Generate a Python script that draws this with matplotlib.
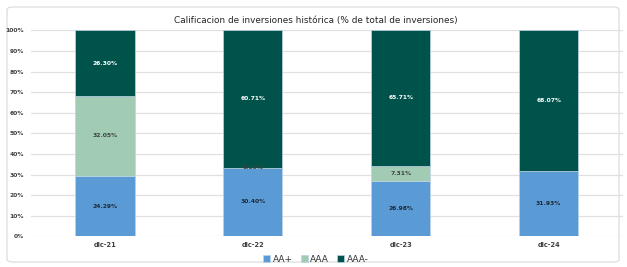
import matplotlib
matplotlib.use("Agg")
import matplotlib.pyplot as plt
from matplotlib.patches import FancyBboxPatch
import numpy as np

categories = ["dic-21", "dic-22", "dic-23", "dic-24"]
series = ["AA+", "AAA", "AAA-"]
aa_plus = [24.29, 30.40, 26.98, 31.93]
aaa = [32.05, 0.00, 7.31, np.nan]
aaa_minus = [26.30, 60.71, 65.71, 68.07]

colors = ["#5B9BD5", "#A1CBB2", "#00534B"]
label_colors = ["#1d2b3a", "#404040", "#ffffff"]

plt.rcParams['font.family'] = ['DejaVu Sans']

fig = plt.figure(figsize=(6.27, 2.67), dpi=100)
frame = FancyBboxPatch((7 / 627, 5 / 267), 612 / 627, 255 / 267,
                       boxstyle="round,pad=0,rounding_size=0.01",
                       transform=fig.transFigure, facecolor="white",
                       edgecolor="#d9d9d9", linewidth=0.8, zorder=-10)
fig.patches.append(frame)

ax = fig.add_axes([31 / 627, 1 - 236.3 / 267, 591.7 / 627, 206 / 267])
ax.set_facecolor("none")

data = np.array([aa_plus, aaa, aaa_minus])
totals = np.nansum(data, axis=0)
pct = np.nan_to_num(data) / totals * 100

x = np.arange(len(categories))
bottom = np.zeros(len(categories))
for i, name in enumerate(series):
    ax.bar(x, pct[i], 0.4, bottom=bottom, color=colors[i], label=name,
           edgecolor="#bcd3e8", linewidth=0.5, zorder=2)
    for j in range(len(categories)):
        if np.isnan(data[i][j]):
            continue
        ax.text(x[j], bottom[j] + pct[i][j] / 2, f"{data[i][j]:.2f}%",
                ha="center", va="center", fontsize=4.3, fontweight="bold",
                color=label_colors[i] if pct[i][j] > 0 else "#404040", zorder=3)
    bottom += pct[i]

ax.set_xlim(-0.5, 3.5)
ax.set_ylim(0, 100)
ax.set_yticks(np.arange(0, 101, 10))
ax.set_yticklabels([f"{v}%" for v in range(0, 101, 10)])
ax.set_xticks(x)
ax.set_xticklabels(categories)
ax.tick_params(axis="y", length=0, labelsize=4.3, labelcolor="#404040", pad=5)
ax.tick_params(axis="x", length=0, labelsize=4.8, labelcolor="#404040", pad=4)
for lab in ax.get_yticklabels() + ax.get_xticklabels():
    lab.set_fontweight("bold")
ax.grid(axis="y", color="#e0e0e0", linewidth=0.9, zorder=0)
for s in ax.spines.values():
    s.set_visible(False)

fig.text(316 / 627, 1 - 20 / 267,
         "Calificacion de inversiones histórica (% de total de inversiones)",
         ha="center", va="center", fontsize=6.4, color="#262626")

fig.legend(loc="center", bbox_to_anchor=(316 / 627, 1 - 259 / 267), ncol=3,
           frameon=False, fontsize=6.5, handlelength=0.75, handleheight=0.75,
           handletextpad=0.3, columnspacing=0.9, labelcolor="#333333")

fig.savefig("out.png", dpi=100)
